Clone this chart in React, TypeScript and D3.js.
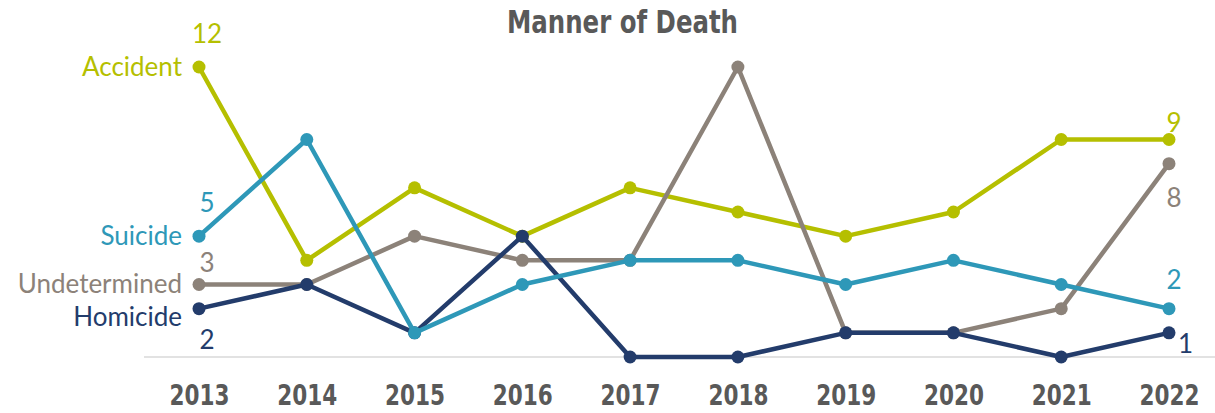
import React, { useEffect, useRef } from 'react';
import * as d3 from 'd3';

const years = ['2013', '2014', '2015', '2016', '2017', '2018', '2019', '2020', '2021', '2022'];
const accident = [12, 4, 7, 5, 7, 6, 5, 6, 9, 9];
const undetermined = [3, 3, 5, 4, 4, 12, 1, 1, 2, 8];
const homicide = [2, 3, 1, 5, 0, 0, 1, 1, 0, 1];
const suicide = [5, 9, 1, 3, 4, 4, 3, 4, 3, 2];

// drawing order: later series sit on top
// nameDy / firstDy / lastDy: where the labels sit relative to their points
const seriesList = [
  { name: 'Accident', values: accident, color: '#b5bf00', nameDy: 0, firstDy: -24, lastDy: -8, lastRight: false },
  { name: 'Undetermined', values: undetermined, color: '#8c8279', nameDy: -1, firstDy: -13, lastDy: 43, lastRight: false },
  { name: 'Homicide', values: homicide, color: '#233c6b', nameDy: 8, firstDy: 40, lastDy: 20, lastRight: true },
  { name: 'Suicide', values: suicide, color: '#2e98b8', nameDy: 0, firstDy: -24, lastDy: -20, lastRight: false },
];

const W = 1215;
const H = 413;
const labelFont = 'Lato, "Open Sans", sans-serif';
const boldFont = '"Liberation Sans Narrow", "DejaVu Sans Condensed", "DejaVu Sans", sans-serif';

export default function App() {
  const ref = useRef<SVGSVGElement>(null);

  useEffect(() => {
    const svg = d3.select(ref.current);
    svg.selectAll('*').remove();

    const x = d3.scalePoint().domain(years).range([199, 1169]);
    const y = d3.scaleLinear().domain([0, 12]).range([357, 67]);

    svg.append('text')
      .attr('x', 507).attr('y', 33)
      .attr('textLength', 231)
      .attr('lengthAdjust', 'spacingAndGlyphs')
      .style('font-family', boldFont)
      .style('font-weight', 'bold')
      .style('font-size', '32px')
      .style('fill', '#595959')
      .text('Manner of Death');

    svg.append('line')
      .attr('x1', 144).attr('x2', W)
      .attr('y1', y(0)).attr('y2', y(0))
      .attr('stroke', '#d9d9d9').attr('stroke-width', 1.5);

    const xAxis = d3.axisBottom(x).tickSize(0).tickPadding(0);
    const gx = svg.append('g')
      .attr('transform', `translate(0, ${y(0)})`)
      .call(xAxis);
    gx.select('.domain').remove();
    gx.selectAll('text')
      .attr('dy', null)
      .attr('y', 48)
      .attr('x', -30)
      .attr('text-anchor', 'start')
      .attr('textLength', 60)
      .attr('lengthAdjust', 'spacingAndGlyphs')
      .style('font-family', boldFont)
      .style('font-weight', 'bold')
      .style('font-size', '28px')
      .style('fill', '#595959');

    const line = d3.line<number>()
      .x((d, i) => x(years[i]) as number)
      .y(d => y(d));

    seriesList.forEach(s => {
      const g = svg.append('g');
      g.append('path')
        .datum(s.values)
        .attr('d', line)
        .attr('fill', 'none')
        .attr('stroke', s.color)
        .attr('stroke-width', 4.5)
        .attr('stroke-linejoin', 'round');
      g.selectAll('circle')
        .data(s.values)
        .enter()
        .append('circle')
        .attr('cx', (d, i) => x(years[i]) as number)
        .attr('cy', d => y(d))
        .attr('r', 6.5)
        .attr('fill', s.color);

      const x0 = x(years[0]) as number;
      const y0 = y(s.values[0]);
      // series name on the left
      g.append('text')
        .attr('x', x0 - 17).attr('y', y0 + s.nameDy)
        .attr('dy', '0.35em')
        .attr('text-anchor', 'end')
        .style('font-family', labelFont)
        .style('font-size', '26px')
        .style('fill', s.color)
        .text(s.name);
      // first value
      g.append('text')
        .attr('x', x0 + 8)
        .attr('y', y0 + s.firstDy)
        .attr('text-anchor', 'middle')
        .style('font-family', labelFont)
        .style('font-size', '26px')
        .style('fill', s.color)
        .text(s.values[0]);
      // last value
      const n = s.values.length - 1;
      const x1 = x(years[n]) as number;
      const y1 = y(s.values[n]);
      g.append('text')
        .attr('x', s.lastRight ? x1 + 9 : x1 + 5)
        .attr('y', y1 + s.lastDy)
        .attr('text-anchor', s.lastRight ? 'start' : 'middle')
        .style('font-family', labelFont)
        .style('font-size', '26px')
        .style('fill', s.color)
        .text(s.values[n]);
    });
  }, []);

  return <svg ref={ref} width={W} height={H} style={{ position: 'absolute', left: 0, top: 0 }} />;
}
